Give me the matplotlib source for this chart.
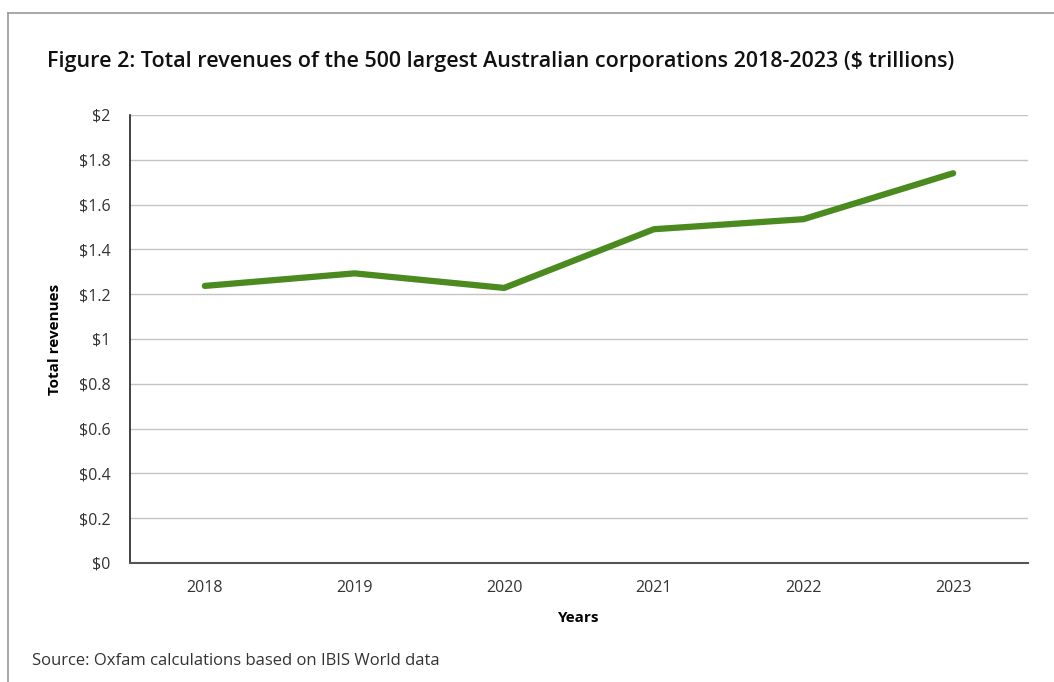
import matplotlib
matplotlib.use("Agg")
import matplotlib.pyplot as plt
from matplotlib.lines import Line2D

plt.rcParams['font.family'] = ['Open Sans', 'DejaVu Sans']

# Total revenues of the 500 largest Australian corporations ($ trillions)
years = ['2018', '2019', '2020', '2021', '2022', '2023']
revenues = [1.237, 1.293, 1.228, 1.490, 1.535, 1.740]
y_ticks = [0, 0.2, 0.4, 0.6, 0.8, 1.0, 1.2, 1.4, 1.6, 1.8, 2.0]
y_labels = ['$0', '$0.2', '$0.4', '$0.6', '$0.8', '$1', '$1.2', '$1.4',
            '$1.6', '$1.8', '$2']

W, H = 1054, 682
fig = plt.figure(figsize=(W / 100, H / 100), dpi=100)
ax = fig.add_axes([130 / W, 1 - 563 / H, (1028 - 130) / W, (563 - 115) / H])

x = range(len(years))
ax.plot(x, revenues, color='#4a8a1f', linewidth=4.5,
        solid_capstyle='round', solid_joinstyle='round', zorder=3)

ax.set_xlim(-0.5, len(years) - 0.5)
ax.set_ylim(0, 2)
ax.set_xticks(list(x))
ax.set_xticklabels(years)
ax.set_yticks(y_ticks)
ax.set_yticklabels(y_labels)
ax.tick_params(length=0, labelsize=11.5, colors='#333333', pad=14)
ax.tick_params(axis='x', pad=12)

ax.grid(axis='y', color='#c4c4c4', linewidth=1)
ax.set_axisbelow(True)
for side in ['top', 'right']:
    ax.spines[side].set_visible(False)
ax.spines['left'].set_color('#222222')
ax.spines['left'].set_linewidth(1.2)
ax.spines['bottom'].set_color('#555555')
ax.spines['bottom'].set_linewidth(1.5)

ax.set_ylabel('Total revenues', fontsize=11, fontweight='bold', labelpad=12)
ax.set_xlabel('Years', fontsize=11, fontweight='bold', labelpad=11)

fig.text(47 / W, 1 - 62 / H,
         'Figure 2: Total revenues of the 500 largest Australian corporations 2018-2023 ($ trillions)',
         fontsize=15.5, fontweight='semibold', color='#111111', va='center')
fig.text(32 / W, 1 - 661 / H, 'Source: Oxfam calculations based on IBIS World data',
         fontsize=12, color='#333333', va='center')

# frame around the figure
fig.add_artist(Line2D([8 / W, 8 / W], [0, 1 - 13 / H], color='#999999', linewidth=1.2))
fig.add_artist(Line2D([8 / W, 1], [1 - 13 / H, 1 - 13 / H], color='#999999', linewidth=1.2))

fig.savefig('out.png', dpi=100)
